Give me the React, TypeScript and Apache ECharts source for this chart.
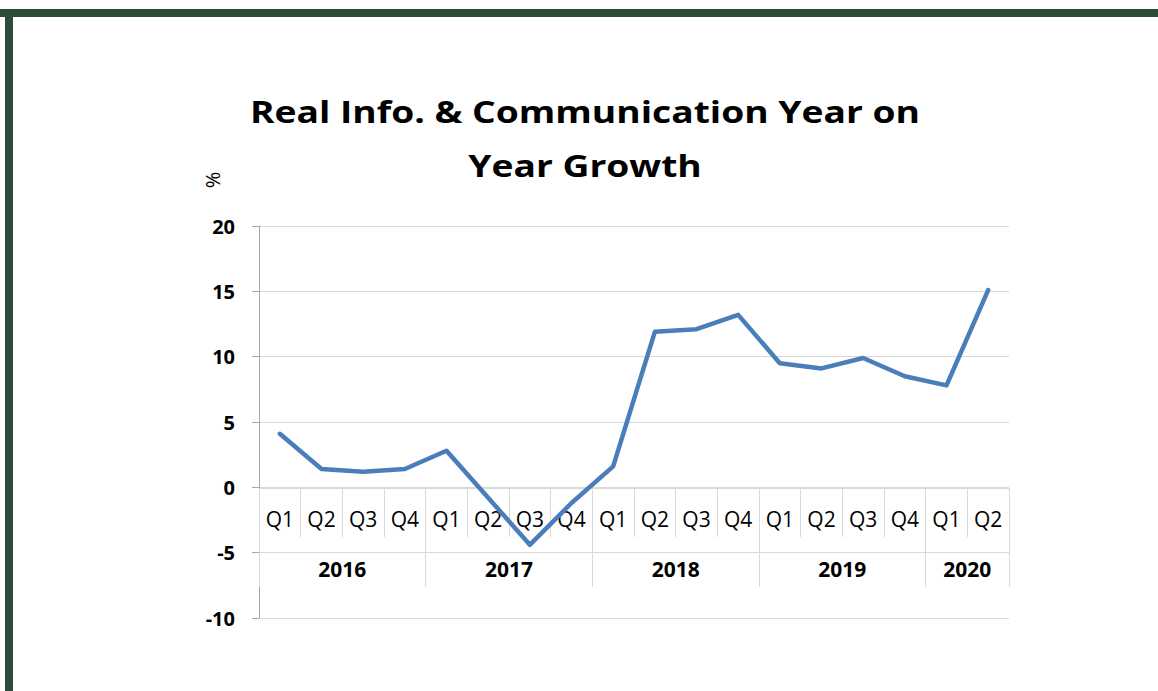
import React, { useEffect, useRef } from "react";
import * as echarts from "echarts";

const quarters = ["Q1","Q2","Q3","Q4","Q1","Q2","Q3","Q4","Q1","Q2","Q3","Q4","Q1","Q2","Q3","Q4","Q1","Q2"];
const growth = [4.1, 1.4, 1.2, 1.4, 2.8, -0.8, -4.4, -1.2, 1.6, 11.9, 12.1, 13.2, 9.5, 9.1, 9.9, 8.5, 7.8, 15.1];
const years = ["2016", "2017", "2018", "2019", "2020"];
const quartersPerYear = [4, 4, 4, 4, 2];
const yTicks = { min: -10, max: 20, step: 5 };

const FONT = "'Open Sans', Lato, sans-serif";

export default function App() {
  const ref = useRef<HTMLDivElement>(null);
  useEffect(() => {
    if (!ref.current) return;
    const chart = echarts.init(ref.current, null, { renderer: "svg" });

    // boundary axis: one slot per quarter boundary
    const boundaryLabels: string[] = new Array(quarters.length + 1).fill("");
    const yearBoundaries: number[] = [];
    let start = 0;
    years.forEach((y, i) => {
      yearBoundaries.push(start);
      boundaryLabels[start + quartersPerYear[i] / 2] = y;
      start += quartersPerYear[i];
    });
    yearBoundaries.push(start);

    chart.setOption({
      animation: false,
      backgroundColor: "#ffffff",
      grid: [
        { left: 259, right: 149, top: 226, bottom: 73, containLabel: false, outerBoundsMode: "none" },
        { left: 259, right: 149, top: 488, bottom: 104, containLabel: false, outerBoundsMode: "none" },
      ],
      graphic: [
        { type: "rect", shape: { x: 0, y: 9, width: 1158, height: 8 }, style: { fill: "#2e4b3c" } },
        { type: "rect", shape: { x: 5, y: 9, width: 8, height: 682 }, style: { fill: "#2e4b3c" } },
        {
          type: "text", x: 585, y: 84, scaleX: 1.2,
          style: {
            text: "Real Info. & Communication Year on\nYear Growth",
            font: `bold 31px ${FONT}`, fill: "#000", textAlign: "center", textVerticalAlign: "top", lineHeight: 54,
          },
        },
        {
          type: "text", x: 212, y: 180, rotation: Math.PI / 2,
          style: { text: "%", font: `20px ${FONT}`, fill: "#000", textAlign: "center", textVerticalAlign: "middle" },
        },
      ],
      xAxis: [
        {
          type: "category",
          gridIndex: 0,
          data: quarters,
          boundaryGap: true,
          show: false,
        },
        {
          type: "category",
          gridIndex: 1,
          data: quarters,
          boundaryGap: true,
          position: "top",
          axisLine: { show: true, onZero: false, lineStyle: { color: "#d9d9d9", width: 1 } },
          axisTick: { show: true, inside: true, interval: 0, length: 49, lineStyle: { color: "#d9d9d9" } },
          axisLabel: { inside: true, interval: 0, margin: 20, color: "#000", fontFamily: FONT, fontSize: 21 },
          splitLine: { show: false },
        },
        {
          type: "category",
          gridIndex: 1,
          data: boundaryLabels,
          boundaryGap: false,
          position: "top",
          min: 0,
          max: quarters.length,
          axisLine: { show: false, onZero: false },
          axisTick: {
            show: true,
            inside: true,
            interval: (idx: number) => yearBoundaries.indexOf(idx) >= 0,
            length: 99,
            lineStyle: { color: "#d9d9d9" },
          },
          axisLabel: { inside: true, interval: 0, margin: 70, color: "#000", fontFamily: FONT, fontSize: 21, fontWeight: "bold" },
          splitLine: { show: false },
        },
      ],
      yAxis: [
        {
          type: "value",
          gridIndex: 0,
          min: yTicks.min,
          max: yTicks.max,
          interval: yTicks.step,
          axisLine: { show: true, onZero: false, lineStyle: { color: "#a6a6a6", width: 1 } },
          axisTick: { show: true, length: 7, lineStyle: { color: "#a6a6a6" } },
          axisLabel: { margin: 24, color: "#000", fontFamily: FONT, fontSize: 20, fontWeight: "bold" },
          splitLine: { show: true, lineStyle: { color: "#d9d9d9", width: 1 } },
        },
        {
          type: "value",
          gridIndex: 1,
          show: false,
          min: 0,
          max: 1,
        },
      ],
      series: [
        {
          type: "line",
          data: growth,
          xAxisIndex: 0,
          yAxisIndex: 0,
          symbol: "none",
          lineStyle: { color: "#4a7ebb", width: 4.5, cap: "round", join: "round" },
        },
      ],
    });
    return () => chart.dispose();
  }, []);
  return <div ref={ref} style={{ position: "fixed", left: 0, top: 0, width: 1158, height: 691 }} />;
}
